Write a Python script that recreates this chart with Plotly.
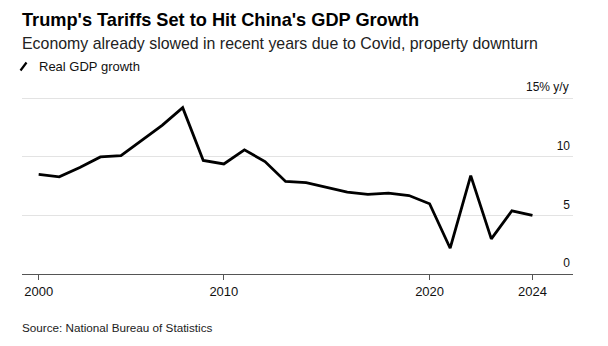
import plotly.graph_objects as go

years = list(range(2000, 2025))
gdp_growth = [8.5, 8.3, 9.1, 10.0, 10.1, 11.4, 12.7, 14.2, 9.7, 9.4, 10.6, 9.6,
              7.9, 7.8, 7.4, 7.0, 6.8, 6.9, 6.7, 6.0, 2.2, 8.4, 3.0, 5.4, 5.0]
# annual values dated at year-end (i.e. start of the following year)
x_tick_vals = [2001, 2010, 2020, 2025]
x_tick_text = ["2000", "2010", "2020", "2024"]
y_tick_vals = [0, 5, 10, 15]
y_tick_text = ["0", "5", "10", ""]
y_top_label = "15% y/y"

title = "Trump's Tariffs Set to Hit China's GDP Growth"
subtitle = "Economy already slowed in recent years due to Covid, property downturn"
legend_label = "Real GDP growth"
source = "Source: National Bureau of Statistics"

x_year_end = [y + 1 for y in years]

W, H = 608, 346
ML, MR, MT, MB = 22, 35, 96, 72
PW, PH = W - ML - MR, H - MT - MB


def px(x):
    return (x - ML) / PW


def py(y):
    return (H - MB - y) / PH


FONT = "Liberation Sans, Arial, sans-serif"

fig = go.Figure()
fig.add_trace(go.Scatter(
    x=x_year_end, y=gdp_growth, mode="lines",
    line=dict(color="#000000", width=2.8),
    name=legend_label, showlegend=False,
    customdata=years, hovertemplate="%{customdata}: %{y}%<extra></extra>",
))

fig.update_layout(
    width=W, height=H,
    margin=dict(l=ML, r=MR, t=MT, b=MB),
    paper_bgcolor="white", plot_bgcolor="white",
    font=dict(family=FONT, color="#000000"),
    xaxis=dict(
        range=[2000.19, 2026.97],
        tickvals=x_tick_vals, ticktext=x_tick_text,
        showgrid=False, zeroline=False,
        showline=True, linecolor="#555555", linewidth=1,
        ticks="outside", ticklen=5, tickwidth=1, tickcolor="#555555",
        tickfont=dict(size=13, color="#111111"),
        fixedrange=True,
    ),
    yaxis=dict(
        range=[0, 15.2],
        side="right",
        tickvals=y_tick_vals, ticktext=y_tick_text,
        ticklabelposition="inside",
        ticklabelshift=-11,
        showgrid=True, gridcolor="#e3e3e3", gridwidth=1,
        zeroline=False, showline=False, ticks="",
        tickfont=dict(size=12, color="#111111"),
        fixedrange=True,
    ),
)

fig.add_annotation(
    text=y_top_label, xref="paper", yref="y",
    x=1, y=y_tick_vals[-1], xanchor="right", yanchor="middle", yshift=11.5,
    xshift=-2, showarrow=False,
    font=dict(size=12, color="#111111", family=FONT),
)
fig.add_annotation(
    text=f"<b>{title}</b>", xref="paper", yref="paper",
    x=px(20), y=py(19.5), xanchor="left", yanchor="middle",
    showarrow=False, font=dict(size=18.2, color="#000000", family=FONT),
)
fig.add_annotation(
    text=subtitle, xref="paper", yref="paper",
    x=px(20), y=py(43), xanchor="left", yanchor="middle",
    showarrow=False, font=dict(size=15.9, color="#222222", family=FONT),
)
fig.add_annotation(
    text=legend_label, xref="paper", yref="paper",
    x=px(37), y=py(66), xanchor="left", yanchor="middle",
    showarrow=False, font=dict(size=13, color="#111111", family=FONT),
)
fig.add_shape(
    type="line", xref="paper", yref="paper",
    x0=px(20.5), y0=py(70.5), x1=px(26.5), y1=py(62.5),
    line=dict(color="#000000", width=2.2),
)
fig.add_annotation(
    text=source, xref="paper", yref="paper",
    x=px(20), y=py(327), xanchor="left", yanchor="middle",
    showarrow=False, font=dict(size=11.7, color="#222222", family=FONT),
)

fig.write_html("out.html", config={"displayModeBar": False})
